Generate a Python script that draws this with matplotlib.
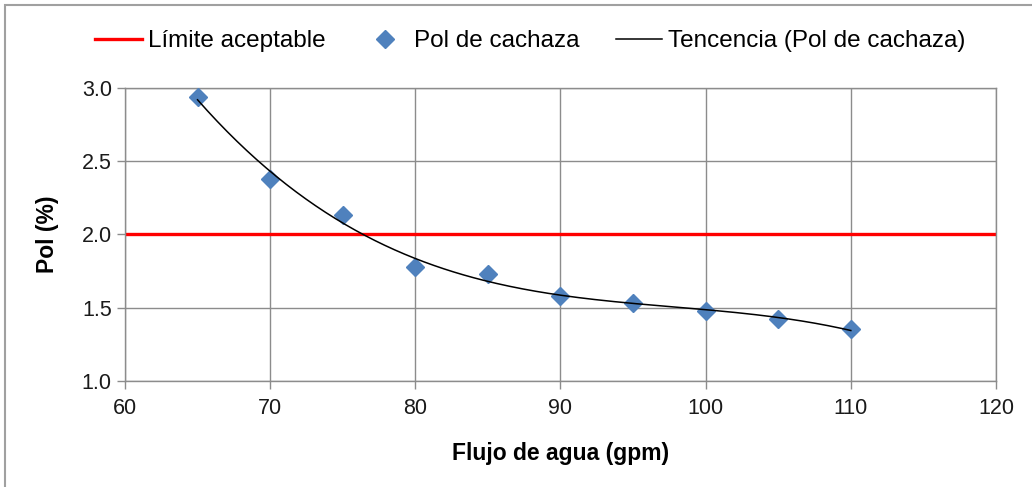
import numpy as np
import matplotlib
matplotlib.use("Agg")
import matplotlib.pyplot as plt
from matplotlib.lines import Line2D
from matplotlib.patches import Rectangle

plt.rcParams['font.family'] = ['Liberation Sans', 'DejaVu Sans']

# Water flow (gpm) vs pol content (%)
flujo = [65, 70, 75, 80, 85, 90, 95, 100, 105, 110]
pol = [2.94, 2.38, 2.13, 1.78, 1.73, 1.58, 1.53, 1.48, 1.42, 1.355]
limite = 2.0
x_ticks = [60, 70, 80, 90, 100, 110, 120]
y_ticks = [1.0, 1.5, 2.0, 2.5, 3.0]

fig = plt.figure(figsize=(10.32, 4.87), dpi=100)
ax = fig.add_axes([0.1211, 0.2177, 0.8440, 0.6016])

# outer chart border (cropped on right and bottom in the reference)
fig.patches.append(Rectangle((5 / 1032, -0.1), 1.2, 1 - 5 / 487 + 0.1,
                             transform=fig.transFigure, fill=False,
                             edgecolor='#a0a0a0', linewidth=1.5))

ax.axhline(limite, color='#ff0000', linewidth=2.4, zorder=2)

# polynomial trend (order 3) fitted to the points
coef = np.polyfit(flujo, pol, 3)
xs = np.linspace(min(flujo), max(flujo), 200)
ax.plot(xs, np.polyval(coef, xs), color='black', linewidth=1.1, zorder=4)

ax.plot(flujo, pol, linestyle='none', marker='D', markersize=9,
        color='#4f81bd', zorder=3)

ax.set_xlim(60, 120)
ax.set_ylim(1.0, 3.0)
ax.set_xticks(x_ticks)
ax.set_yticks(y_ticks)
ax.set_yticklabels([f"{v:.1f}" for v in y_ticks])
ax.grid(True, color='#8c8c8c', linewidth=1.0)
ax.set_axisbelow(True)
for s in ax.spines.values():
    s.set_color('#8c8c8c')
    s.set_linewidth(1.0)
ax.tick_params(colors='#8c8c8c', labelcolor='#1a1a1a', labelsize=15.5,
               length=6, width=1.0, direction='out')
ax.tick_params(axis='x', pad=6)

ax.set_xlabel('Flujo de agua (gpm)', fontsize=16.5, fontweight='bold', labelpad=17)
ax.set_ylabel('Pol (%)', fontsize=16.5, fontweight='bold', labelpad=16)

handles = [
    Line2D([], [], color='#ff0000', linewidth=2.4),
    Line2D([], [], linestyle='none', marker='D', markersize=9, color='#4f81bd'),
    Line2D([], [], color='black', linewidth=1.1),
]
labels = ['Límite aceptable', 'Pol de cachaza', 'Tencencia (Pol de cachaza)']
fig.legend(handles, labels, loc='center', bbox_to_anchor=(0.514, 0.915),
           ncol=3, frameon=False, fontsize=17.5, handlelength=1.9,
           handletextpad=0.25, columnspacing=1.5)

fig.savefig('out.png', dpi=100)
